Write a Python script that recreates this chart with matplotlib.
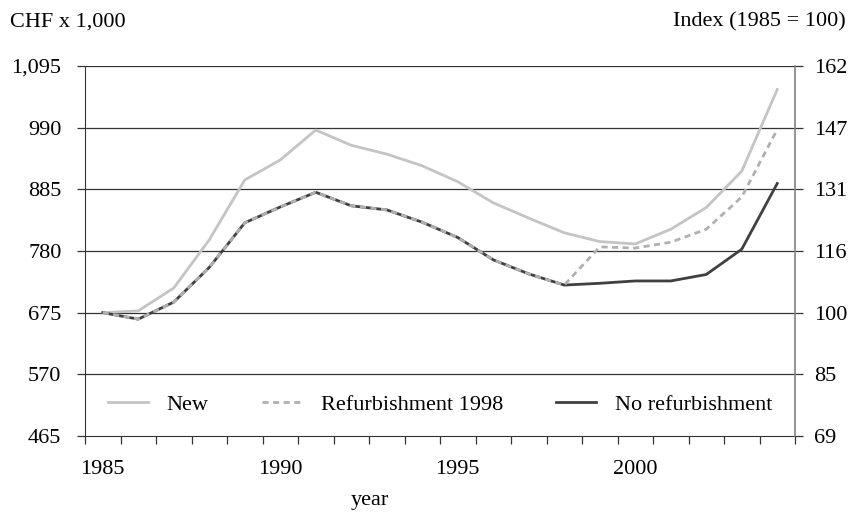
import numpy as np
import matplotlib
matplotlib.use("Agg")
import matplotlib.pyplot as plt

# values (CHF x 1,000)
years = list(range(1985, 2005))
new = [675, 678, 717, 799, 901, 935, 986, 960, 945, 925, 898, 862,
       836, 811, 796, 792, 817, 854, 916, 1055]
refurb = [675, 664, 693, 752, 828, 855, 880, 857, 850, 829, 803, 765,
          741, 722, 787, 785, 795, 817, 872, 987]
no_refurb = [675, 664, 693, 752, 828, 855, 880, 857, 850, 829, 803, 765,
             741, 722, 725, 729, 729, 740, 783, 895]

left_ticks = [465, 570, 675, 780, 885, 990, 1095]
left_labels = ["465", "570", "675", "780", "885", "990", "1,095"]
right_labels = ["69", "85", "100", "116", "131", "147", "162"]

plt.rcParams['font.family'] = ['Liberation Serif', 'DejaVu Serif']
fs = 16

fig = plt.figure(figsize=(8.56, 5.12), dpi=100)
ax = fig.add_axes([85/856, 1-436/512, 710/856, 370/512])

x = np.arange(len(years))
ax.plot(x, no_refurb, color='#404040', lw=2.0, label='No refurbishment', zorder=3)
ax.plot(x, refurb, color='#b0b0b0', lw=2.0, ls=(0, (2.2, 1.6)), label='Refurbishment 1998', zorder=4)
ax.plot(x, new, color='#c4c4c4', lw=2.0, label='New', zorder=2)

ax.set_xlim(-0.5, len(years) - 0.5)
ax.set_ylim(465, 1095)

ax.set_xticks([0, 5, 10, 15])
ax.set_xticklabels(['1985', '1990', '1995', '2000'], fontsize=fs)
ax.set_xticks(np.arange(-0.5, len(years)), minor=True)
ax.tick_params(axis='x', which='major', length=0, pad=17)
ax.tick_params(axis='x', which='minor', length=6, width=0.9, color='#333333')

ax.set_yticks(left_ticks)
ax.set_yticklabels(left_labels, fontsize=fs)
ax.tick_params(axis='y', length=6, width=0.9, color='#333333', pad=11)
for v in left_ticks[1:]:
    ax.axhline(v, color='#333333', lw=0.9, zorder=1)

ax2 = ax.twinx()
ax2.set_ylim(465, 1095)
ax2.set_yticks(left_ticks)
ax2.set_yticklabels(right_labels, fontsize=fs)
ax2.tick_params(axis='y', length=6, width=0.9, color='#333333', pad=8)

for a in (ax, ax2):
    a.spines['top'].set_visible(False)
ax.spines['right'].set_visible(False)
ax2.spines['left'].set_visible(False)
ax2.spines['bottom'].set_visible(False)
ax.spines['left'].set_color('#333333')
ax.spines['bottom'].set_color('#333333')
ax2.spines['right'].set_color('#808080')
ax2.spines['right'].set_linewidth(1.2)

handles, labels = ax.get_legend_handles_labels()
order = [2, 1, 0]
ax.legend([handles[i] for i in order], [labels[i] for i in order],
          loc='center', bbox_to_anchor=(0.5, 0.084), ncol=3, frameon=False,
          fontsize=fs, handlelength=1.8, handletextpad=0.85, columnspacing=2.4)

fig.text(10/856, 1-22/512, 'CHF x 1,000', fontsize=fs, ha='left', va='center')
fig.text(846/856, 1-22/512, 'Index (1985 = 100)', fontsize=fs, ha='right', va='center')
fig.text(370/856, 1-500/512, 'year', fontsize=fs, ha='center', va='center')

fig.savefig('out.png', dpi=100)
